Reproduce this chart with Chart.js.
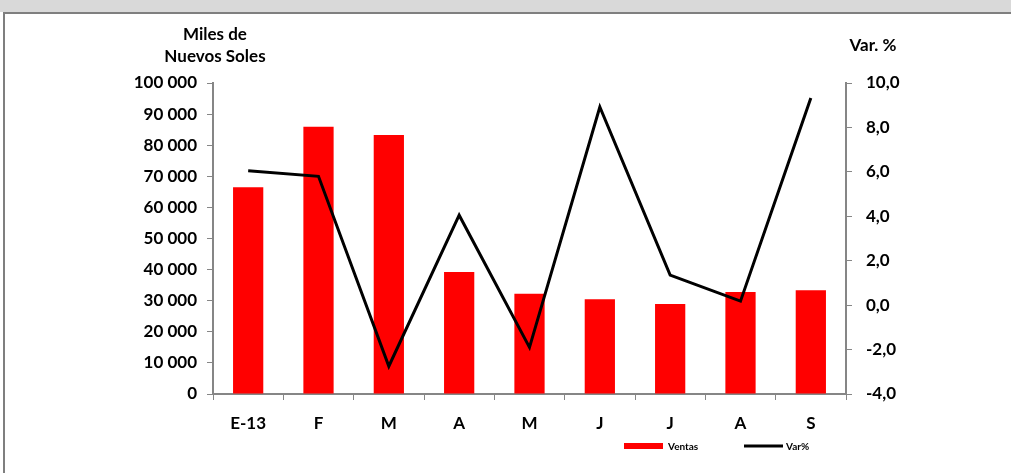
<!DOCTYPE html>
<html>
<head>
<meta charset="utf-8">
<script src="https://cdn.jsdelivr.net/npm/chart.js@4.4.0/dist/chart.umd.min.js"></script>
<style>
  html, body { margin: 0; padding: 0; background: #fff; }
  #band { position: absolute; left: 0; top: 0; width: 1011px; height: 12px; background: #d9d9d9; }
  #frame { position: absolute; left: 3px; top: 12px; width: 1008px; height: 461px;
           border-left: 2px solid #7f7f7f; border-top: 2px solid #7f7f7f; box-sizing: border-box; }
  #wrap { position: absolute; left: 0; top: 0; width: 1011px; height: 473px; }
</style>
</head>
<body>
<div id="band"></div>
<div id="frame"></div>
<div id="wrap"><canvas id="myChart1"></canvas></div>
<script>
// meses
var labels = ["E-13", "F", "M", "A", "M", "J", "J", "A", "S"];
// ventas en miles de nuevos soles
var ventas = [66500, 85900, 83300, 39200, 32200, 30500, 28900, 32800, 33400];
// variacion %
var varPct = [6.05, 5.8, -2.75, 4.05, -1.9, 8.92, 1.35, 0.18, 9.32];

var fontFam = "Lato, 'Open Sans', sans-serif";

function miles(v) {
    return String(v).replace(/\B(?=(\d{3})+(?!\d))/g, " ");
}

// titulos de ejes y leyenda (como en el grafico original)
var extras = {
    id: 'extras',
    afterDraw: function(chart) {
        var ctx = chart.ctx;
        ctx.save();
        ctx.fillStyle = "#000";
        ctx.font = "bold 17px " + fontFam;
        ctx.textAlign = "center";
        ctx.textBaseline = "middle";
        ctx.fillText("Miles de", 215, 35);
        ctx.fillText("Nuevos Soles", 215, 57);
        ctx.fillText("Var. %", 873, 46);

        // leyenda
        var bar = chart.data.datasets[1], line = chart.data.datasets[0];
        ctx.fillStyle = bar.backgroundColor;
        ctx.fillRect(624, 443, 39, 6);
        ctx.strokeStyle = line.borderColor;
        ctx.lineWidth = 3;
        ctx.beginPath();
        ctx.moveTo(744, 446);
        ctx.lineTo(783, 446);
        ctx.stroke();
        ctx.fillStyle = "#000";
        ctx.font = "bold 10px " + fontFam;
        ctx.textAlign = "left";
        ctx.fillText(bar.label, 668, 447);
        ctx.fillText(line.label, 786, 447);
        ctx.restore();
    }
};

var chart = new Chart("myChart1", {
    type: "bar",
    data: {
        labels: labels,
        datasets: [
            {
                type: "line",
                label: "Var%",
                data: varPct,
                yAxisID: "y1",
                borderColor: "#000",
                backgroundColor: "#000",
                borderWidth: 3,
                pointRadius: 0,
                tension: 0,
                order: 1
            },
            {
                label: "Ventas",
                data: ventas,
                yAxisID: "y",
                backgroundColor: "#ff0000",
                barPercentage: 0.43,
                categoryPercentage: 1,
                order: 2
            }
        ]
    },
    options: {
        responsive: true,
        maintainAspectRatio: false,
        animation: false,
        layout: { padding: { top: 83, bottom: 42, left: 0, right: 0 } },
        plugins: {
            tooltip: { enabled: false },
            legend: { display: false }
        },
        scales: {
            x: {
                grid: { display: true, drawOnChartArea: false, tickLength: 6, color: "#868686", offset: true },
                border: { color: "#868686", width: 2 },
                ticks: { color: "#000", padding: 13, font: { family: fontFam, size: 17, weight: "bold" } },
                afterFit: function(s) { s.height = 37; }
            },
            y: {
                position: "left",
                min: 0, max: 100000,
                grid: { display: true, drawOnChartArea: false, tickLength: 6, color: "#868686" },
                border: { color: "#868686", width: 2 },
                ticks: { stepSize: 10000, color: "#000", padding: 10,
                         font: { family: fontFam, size: 17, weight: "bold" },
                         callback: function(v) { return miles(v); } },
                afterFit: function(s) { s.width = 213; }
            },
            y1: {
                position: "right",
                min: -4, max: 10,
                grid: { display: true, drawOnChartArea: false, tickLength: 6, color: "#868686" },
                border: { color: "#868686", width: 2 },
                ticks: { stepSize: 2, color: "#000", padding: 14,
                         font: { family: fontFam, size: 17, weight: "bold" },
                         callback: function(v) { return v.toFixed(1).replace(".", ","); } },
                afterFit: function(s) { s.width = 165; }
            }
        }
    },
    plugins: [extras]
});
</script>
</body>
</html>
